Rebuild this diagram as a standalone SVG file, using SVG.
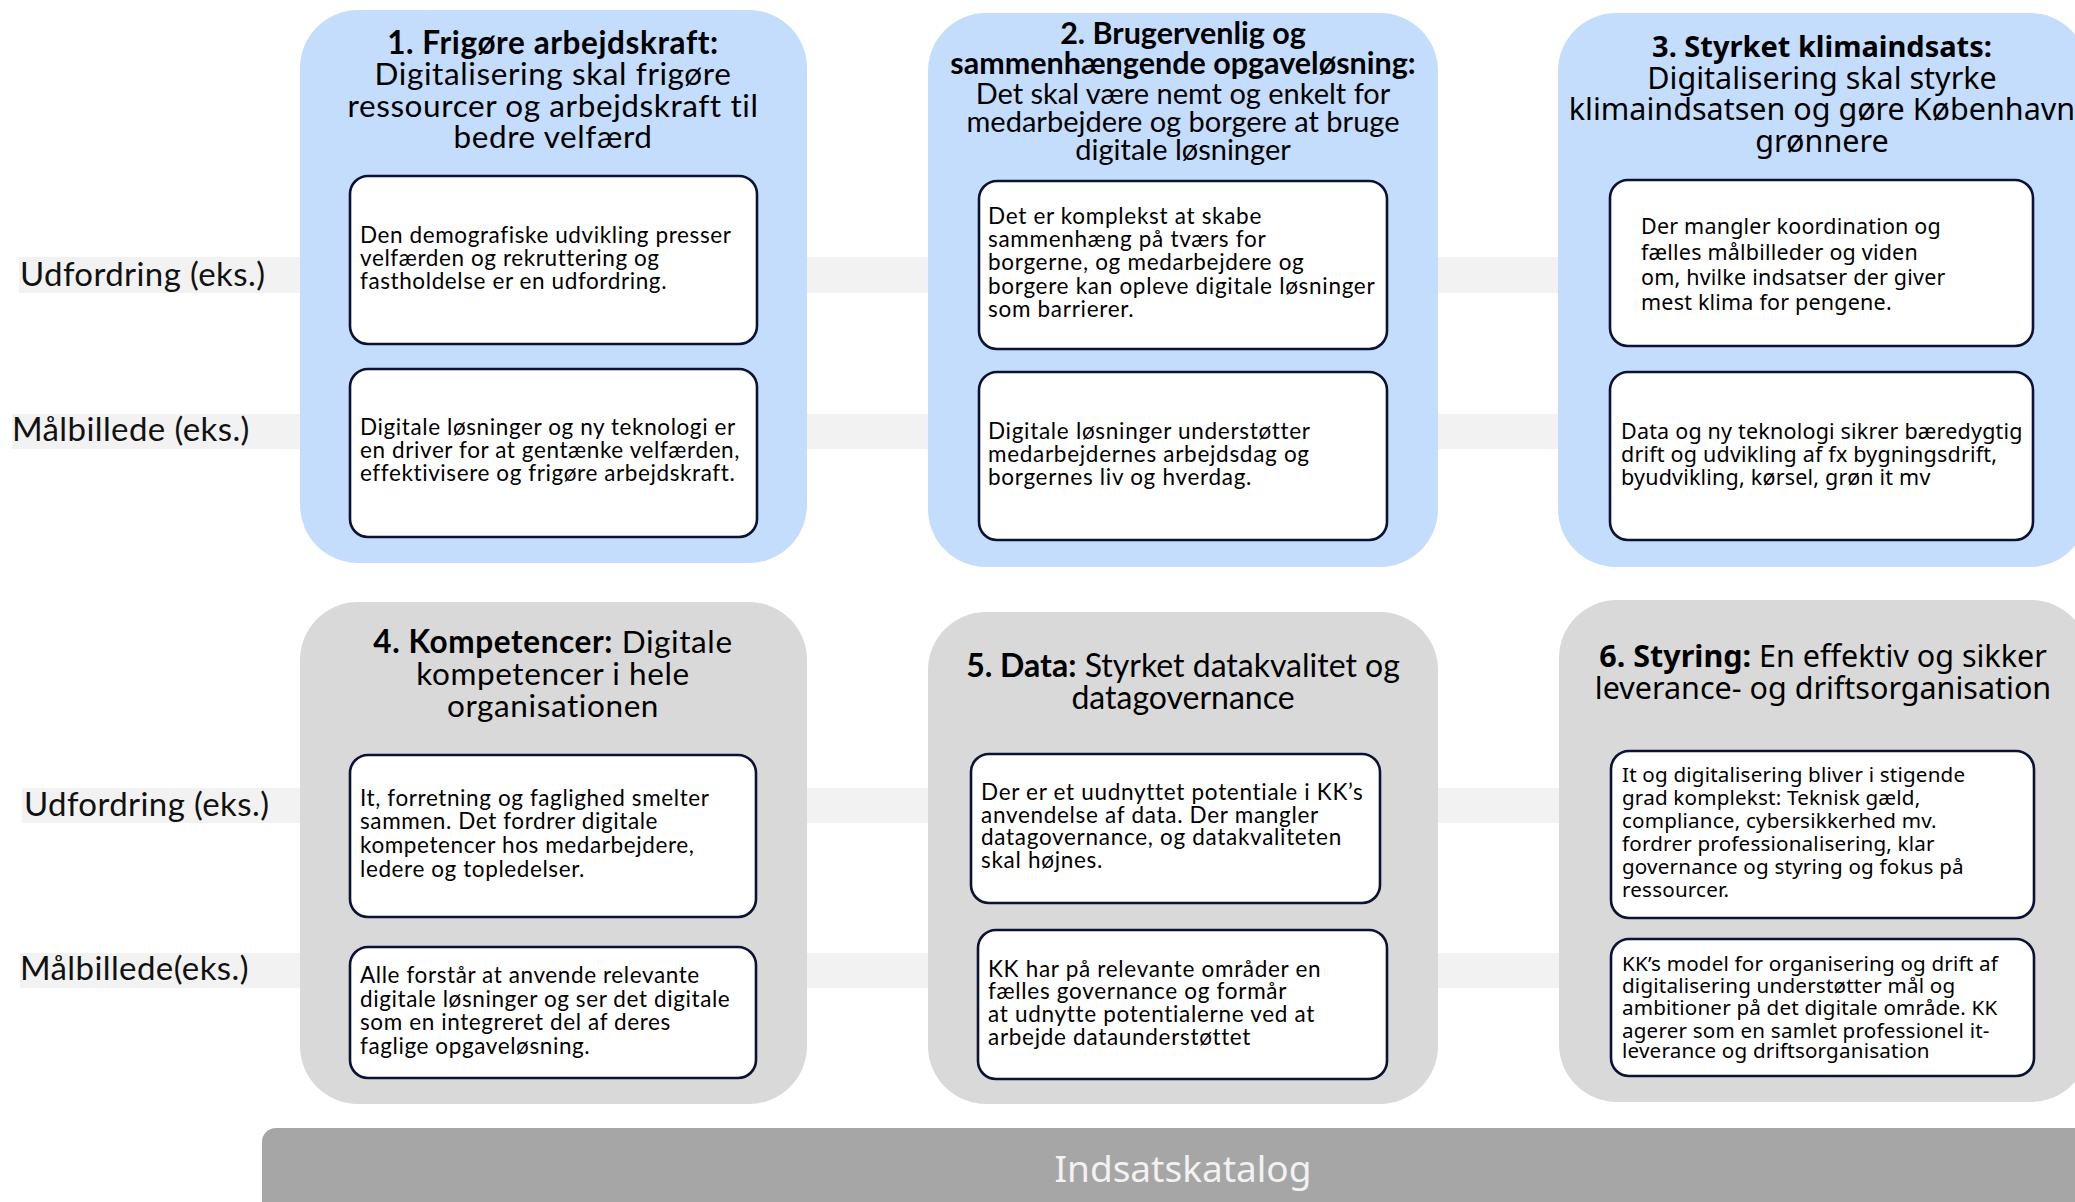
<svg xmlns="http://www.w3.org/2000/svg" width="2075" height="1202" viewBox="0 0 2075 1202">
<style>
.band{fill:#f2f2f2}
.blue{fill:#c4ddfc}
.grey{fill:#d9d9d9}
.card{fill:#ffffff;stroke:#0b1233;stroke-width:2.6}
.lbl{font-family:Lato,"Liberation Sans",sans-serif;font-size:33px;letter-spacing:0.4px;fill:#111}
.tA{font-family:Lato,"Liberation Sans",sans-serif;font-size:31.5px;letter-spacing:0.6px;fill:#000;text-anchor:middle}
.tB{font-family:Lato,"Liberation Sans",sans-serif;font-size:29px;fill:#000;text-anchor:middle}
.tB .b{font-size:30.5px}
.tD{font-family:Lato,"Liberation Sans",sans-serif;font-size:32px;fill:#000;text-anchor:middle}
.tC{font-family:"Noto Sans","Open Sans",sans-serif;font-size:30.5px;fill:#000;text-anchor:middle}
.tC .b{font-size:29px}
.tE{font-family:"Noto Sans","Open Sans",sans-serif;font-size:30.5px;fill:#000;text-anchor:middle}
.b{font-weight:bold}
.xA{font-family:Lato,"Liberation Sans",sans-serif;font-size:22.5px;letter-spacing:0.6px;fill:#000}
.xB{font-family:Lato,"Liberation Sans",sans-serif;font-size:22.5px;letter-spacing:0.7px;fill:#000}
.xC{font-family:"Noto Sans","Open Sans",sans-serif;font-size:21.5px;letter-spacing:0.2px;fill:#000}
.xD{font-family:"Noto Sans","Open Sans",sans-serif;font-size:20.6px;letter-spacing:0.2px;fill:#000}
.bar{fill:#a6a6a6}
.barT{font-family:"Noto Sans","Open Sans",sans-serif;font-size:37px;fill:#f2f2f2;text-anchor:middle}
</style>
<g id="bands">
<rect class="band" x="19" y="257" width="2056" height="36"/>
<rect class="band" x="12" y="414" width="2063" height="35"/>
<rect class="band" x="22" y="788" width="2053" height="35"/>
<rect class="band" x="20" y="953" width="2055" height="35"/>
</g>
<g id="labels">
<text class="lbl" x="20" y="286">Udfordring (eks.)</text>
<text class="lbl" x="12" y="441">Målbillede (eks.)</text>
<text class="lbl" x="24" y="816">Udfordring (eks.)</text>
<text class="lbl" x="20" y="980">Målbillede(eks.)</text>
</g>
<g id="connectors"></g>
<g id="node1">
<rect class="blue" x="300" y="10" width="507" height="553" rx="58"/>
<text class="tA"><tspan class="b" x="553" y="54">1. Frigøre arbejdskraft:</tspan><tspan x="553" y="85">Digitalisering skal frigøre</tspan><tspan x="553" y="117">ressourcer og arbejdskraft til</tspan><tspan x="553" y="148">bedre velfærd</tspan></text>
<rect class="card" x="350" y="176" width="407" height="168" rx="18"/>
<text class="xA"><tspan x="360" y="243">Den demografiske udvikling presser</tspan><tspan x="360" y="266">velfærden og rekruttering og</tspan><tspan x="360" y="289">fastholdelse er en udfordring.</tspan></text>
<rect class="card" x="350" y="369" width="407" height="168" rx="18"/>
<text class="xA"><tspan x="360" y="435">Digitale løsninger og ny teknologi er</tspan><tspan x="360" y="458">en driver for at gentænke velfærden,</tspan><tspan x="360" y="481">effektivisere og frigøre arbejdskraft.</tspan></text>
</g>
<g id="node2">
<rect class="blue" x="928" y="13" width="510" height="554" rx="58"/>
<text class="tB"><tspan class="b" x="1183" y="44">2. Brugervenlig og</tspan><tspan class="b" x="1183" y="74">sammenhængende opgaveløsning:</tspan><tspan x="1183" y="104">Det skal være nemt og enkelt for</tspan><tspan x="1183" y="132">medarbejdere og borgere at bruge</tspan><tspan x="1183" y="160">digitale løsninger</tspan></text>
<rect class="card" x="979" y="181" width="408" height="168" rx="18"/>
<text class="xB"><tspan x="988" y="224">Det er komplekst at skabe</tspan><tspan x="988" y="247">sammenhæng på tværs for</tspan><tspan x="988" y="270">borgerne, og medarbejdere og</tspan><tspan x="988" y="294">borgere kan opleve digitale løsninger</tspan><tspan x="988" y="317">som barrierer.</tspan></text>
<rect class="card" x="979" y="372" width="408" height="168" rx="18"/>
<text class="xB"><tspan x="988" y="439">Digitale løsninger understøtter</tspan><tspan x="988" y="462">medarbejdernes arbejdsdag og</tspan><tspan x="988" y="485">borgernes liv og hverdag.</tspan></text>
</g>
<g id="node3">
<rect class="blue" x="1558" y="13" width="530" height="554" rx="58"/>
<text class="tC"><tspan class="b" x="1822" y="57">3. Styrket klimaindsats:</tspan><tspan x="1822" y="89">Digitalisering skal styrke</tspan><tspan x="1822" y="120">klimaindsatsen og gøre København</tspan><tspan x="1822" y="152">grønnere</tspan></text>
<rect class="card" x="1610" y="180" width="423" height="166" rx="18"/>
<text class="xC"><tspan x="1641" y="234">Der mangler koordination og</tspan><tspan x="1641" y="260">fælles målbilleder og viden</tspan><tspan x="1641" y="285">om, hvilke indsatser der giver</tspan><tspan x="1641" y="310">mest klima for pengene.</tspan></text>
<rect class="card" x="1610" y="372" width="423" height="168" rx="18"/>
<text class="xC"><tspan x="1621" y="439">Data og ny teknologi sikrer bæredygtig</tspan><tspan x="1621" y="462">drift og udvikling af fx bygningsdrift,</tspan><tspan x="1621" y="485">byudvikling, kørsel, grøn it mv</tspan></text>
</g>
<g id="node4">
<rect class="grey" x="300" y="602" width="507" height="502" rx="58"/>
<text class="tA"><tspan x="553" y="653"><tspan class="b">4. Kompetencer:</tspan> Digitale</tspan><tspan x="553" y="685">kompetencer i hele</tspan><tspan x="553" y="717">organisationen</tspan></text>
<rect class="card" x="350" y="755" width="406" height="162" rx="18"/>
<text class="xA"><tspan x="360" y="806">It, forretning og faglighed smelter</tspan><tspan x="360" y="829">sammen. Det fordrer digitale</tspan><tspan x="360" y="853">kompetencer hos medarbejdere,</tspan><tspan x="360" y="877">ledere og topledelser.</tspan></text>
<rect class="card" x="350" y="947" width="406" height="131" rx="18"/>
<text class="xA"><tspan x="360" y="983">Alle forstår at anvende relevante</tspan><tspan x="360" y="1007">digitale løsninger og ser det digitale</tspan><tspan x="360" y="1030">som en integreret del af deres</tspan><tspan x="360" y="1054">faglige opgaveløsning.</tspan></text>
</g>
<g id="node5">
<rect class="grey" x="928" y="612" width="510" height="492" rx="58"/>
<text class="tD"><tspan x="1183" y="677"><tspan class="b">5. Data:</tspan> Styrket datakvalitet og</tspan><tspan x="1183" y="709">datagovernance</tspan></text>
<rect class="card" x="971" y="754" width="409" height="149" rx="18"/>
<text class="xB"><tspan x="981" y="800">Der er et uudnyttet potentiale i KK’s</tspan><tspan x="981" y="823">anvendelse af data. Der mangler</tspan><tspan x="981" y="845">datagovernance, og datakvaliteten</tspan><tspan x="981" y="868">skal højnes.</tspan></text>
<rect class="card" x="978" y="930" width="409" height="149" rx="18"/>
<text class="xB"><tspan x="988" y="977">KK har på relevante områder en</tspan><tspan x="988" y="999">fælles governance og formår</tspan><tspan x="988" y="1022">at udnytte potentialerne ved at</tspan><tspan x="988" y="1045">arbejde dataunderstøttet</tspan></text>
</g>
<g id="node6">
<rect class="grey" x="1559" y="600" width="530" height="502" rx="58"/>
<text class="tE"><tspan x="1823" y="667"><tspan class="b">6. Styring:</tspan> En effektiv og sikker</tspan><tspan x="1823" y="699">leverance- og driftsorganisation</tspan></text>
<rect class="card" x="1611" y="751" width="423" height="167" rx="18"/>
<text class="xD"><tspan x="1622" y="782">It og digitalisering bliver i stigende</tspan><tspan x="1622" y="805">grad komplekst: Teknisk gæld,</tspan><tspan x="1622" y="828">compliance, cybersikkerhed mv.</tspan><tspan x="1622" y="851">fordrer professionalisering, klar</tspan><tspan x="1622" y="874">governance og styring og fokus på</tspan><tspan x="1622" y="897">ressourcer.</tspan></text>
<rect class="card" x="1611" y="939" width="423" height="137" rx="18"/>
<text class="xD"><tspan x="1622" y="971">KK’s model for organisering og drift af</tspan><tspan x="1622" y="993">digitalisering understøtter mål og</tspan><tspan x="1622" y="1015">ambitioner på det digitale område. KK</tspan><tspan x="1622" y="1038">agerer som en samlet professionel it-</tspan><tspan x="1622" y="1058">leverance og driftsorganisation</tspan></text>
</g>
<g id="bar">
<rect class="bar" x="262" y="1128" width="1840" height="90" rx="14"/>
<text class="barT" x="1183" y="1182">Indsatskatalog</text>
</g>
</svg>
